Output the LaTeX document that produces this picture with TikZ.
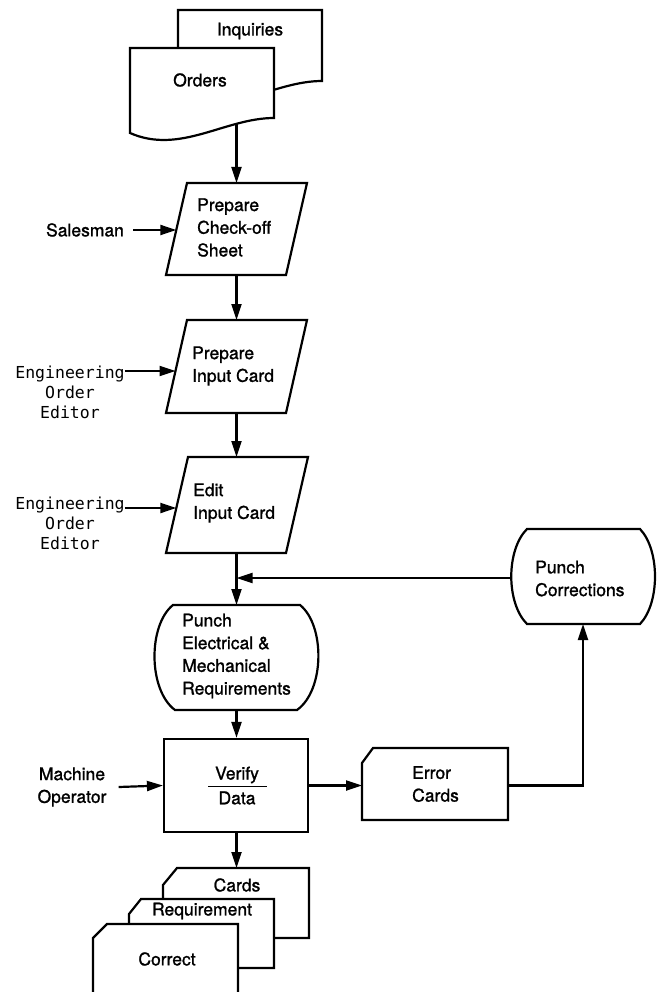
\documentclass[tikz,border=0pt]{standalone}
\usepackage{fontspec}
\setmainfont{TeX Gyre Heros}[FakeBold=1.2]
\newfontfamily\monof{DejaVu Sans Mono}
\usetikzlibrary{arrows.meta}
\begin{document}
\begin{tikzpicture}[x=1pt,y=-1pt,
  shp/.style={draw,line width=2.2pt,fill=white,line join=miter},
  ln/.style={line width=2.2pt},
  arr/.style={ln,-{Triangle[length=16pt,width=10pt]}},
  txt/.style={font=\fontsize{17.5}{22.7}\selectfont,align=left,inner sep=0pt},
  ctxt/.style={txt,align=center},
  mono/.style={font=\monof\fontsize{16.5}{20}\selectfont,align=center,inner sep=0pt}]
\useasboundingbox (0,0) rectangle (661,992);

% --- documents: Inquiries / Orders
\path[shp] (178,10) -- (322,10) -- (322,81) .. controls (273,81) and (228,118) .. (178,96) -- cycle;
\node[ctxt] (inq) at (250,31) {Inquiries};
\path[shp] (130,48) -- (274,48) -- (274,118) .. controls (225,118) and (180,155) .. (130,133) -- cycle;
\node[ctxt] (ord) at (200,80) {Orders};
\coordinate (ords) at (236.5,124);

% --- Prepare Check-off Sheet
\path[shp] (187,183) -- (307,183) -- (286,275) -- (166,275) -- cycle;
\node[txt,anchor=west] (p1t) at (197,227.5) {Prepare\\Check-off\\Sheet};
\coordinate (p1n) at (236.5,183);
\coordinate (p1s) at (236.5,275);
\coordinate (p1w) at (176.3,230);
\node[ctxt,inner xsep=9pt] (sales) at (85,230) {Salesman};

% --- Prepare Input Card
\path[shp] (187,320) -- (307,320) -- (286,413) -- (166,413) -- cycle;
\node[txt,anchor=west] (p2t) at (192,366) {Prepare\\Input Card};
\coordinate (p2n) at (236.5,320);
\coordinate (p2s) at (236.5,413);
\coordinate (p2w) at (175.5,371);
\node[mono] (eng1) at (70,392) {Engineering\\Order\\Editor};

% --- Edit Input Card
\path[shp] (188,457) -- (308,457) -- (286,553) -- (166,553) -- cycle;
\node[txt,anchor=west] (p3t) at (193,503) {Edit\\Input Card};
\coordinate (p3n) at (236.5,457);
\coordinate (p3s) at (236.5,553);
\coordinate (p3w) at (176.3,508);
\node[mono] (eng2) at (70,523) {Engineering\\Order\\Editor};

% --- Punch Electrical & Mechanical Requirements
\path[shp] (173,605) -- (300,605) .. controls (325,625) and (325,690) .. (297,710)
  -- (175,710) .. controls (148,690) and (148,625) .. (173,605) -- cycle;
\node[txt,anchor=west] (pun) at (182,656) {Punch\\Electrical \&\\Mechanical\\Requirements};
\coordinate (punn) at (236.5,605);
\coordinate (puns) at (236.5,710);
\coordinate (junc) at (236.5,578);

% --- Punch Corrections
\path[shp] (527,529) -- (640,529) .. controls (660,550) and (660,603) .. (640,624)
  -- (527,624) .. controls (506,603) and (506,550) .. (527,529) -- cycle;
\node[txt,anchor=west] (pc) at (535,578.5) {Punch\\Corrections};
\coordinate (pcw) at (510.5,578);
\coordinate (pcs) at (583,624);

% --- Verify / Data
\node[shp,minimum width=144pt,minimum height=93pt,inner sep=0pt] (ver) at (236,785.5) {};
\node[ctxt] (vt) at (237,775) {Verify};
\node[ctxt] (dt) at (237,798) {Data};
\draw[line width=1.4pt] (208,786.5) -- (267,786.5);
\node[ctxt] (mach) at (72,787) {Machine\\Operator};

% --- Error Cards
\path[shp] (362,763) -- (373,748) -- (508,748) -- (508,820) -- (362,820) -- cycle;
\node[txt,anchor=west] (err) at (412,784) {Error\\Cards};
\coordinate (errw) at (362,785.5);
\coordinate (erre) at (508,785.5);

% --- Output cards
\path[shp] (163,885) -- (177,868) -- (309,868) -- (309,938) -- (163,938) -- cycle;
\node[ctxt] (cards) at (237,885) {Cards};
\coordinate (cardsn) at (236.5,868);
\path[shp] (129,914) -- (141,899) -- (274,899) -- (274,968) -- (129,968) -- cycle;
\node[ctxt] (req) at (202,911) {Requirement};
\fill[white] (93,1000) -- (93,938) -- (107,924) -- (238,924) -- (238,1000) -- cycle;
\draw[ln] (93,1000) -- (93,938) -- (107,924) -- (238,924) -- (238,1000);
\node[ctxt] (corr) at (167,959) {Correct};

% --- connectors
\draw[arr] (ords) -- (p1n);
\draw[arr] (sales) -- (p1w);
\draw[arr] (p1s) -- (p2n);
\draw[arr] (eng1.north east |- p2w) -- (p2w);
\draw[arr] (p2s) -- (p3n);
\draw[arr] (eng2.north east |- p3w) -- (p3w);
\draw[arr] (p3s) -- (punn);
\draw[arr] (pcw) -- (junc);
\draw[arr] (puns) -- (puns |- ver.north);
\draw[arr] ([xshift=12pt]mach.east) -- (ver.west);
\draw[arr] (ver.east) -- (errw);
\draw[arr] (erre) -| (pcs);
\draw[arr] (ver.south -| cardsn) -- (cardsn);
\end{tikzpicture}
\end{document}
